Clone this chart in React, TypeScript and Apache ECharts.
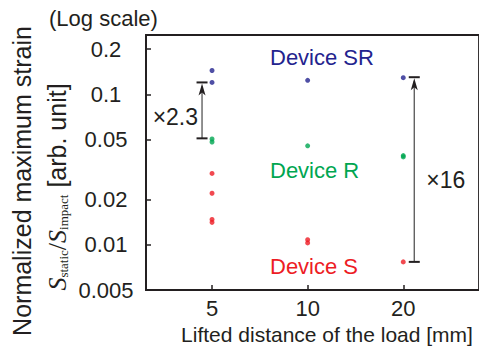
import React, { useEffect, useRef } from "react";
import * as echarts from "echarts";

// ---- data ----
const xTickValues = [5, 10, 20];
const xTickLabels = ["5", "10", "20"];
const yTickValues = [0.005, 0.01, 0.02, 0.05, 0.1, 0.2];
const yTickLabels = ["0.005", "0.01", "0.02", "0.05", "0.1", "0.2"];

const seriesNames = ["Device SR", "Device R", "Device S"];
const deviceSR = [[5, 0.144], [5, 0.12], [10, 0.124], [20, 0.129]];
const deviceR = [[5, 0.0505], [5, 0.0482], [10, 0.0455], [20, 0.0392], [20, 0.0384]];
const deviceS = [
  [5, 0.0298], [5, 0.022], [5, 0.01475], [5, 0.0141],
  [10, 0.0108], [10, 0.0103], [20, 0.0077],
];

// ratio brackets: x, low, high
const ratioBrackets = [[5, 0.051, 0.12], [20, 0.0077, 0.13]];
const ratioLabels = ["×2.3", "×16"];

const SANS = "'Liberation Sans', Arial, sans-serif";
const SERIF = "'Liberation Serif', 'Times New Roman', serif";
const colors = ["#23238e", "#00a651", "#ed1c24"];
const ink = "#231f20";

// bracket drawing parameters (pixel offsets)
const bracketDx = [-10, 11];
const labelDx = [-4, 12];
const labelDy = [7, 10];
const labelAlign = ["right", "left"];

function nearestLabel(v: number, values: number[], labels: string[]) {
  let best = 0;
  let bd = Infinity;
  values.forEach((t, i) => {
    const d = Math.abs(Math.log(v) - Math.log(t));
    if (d < bd) { bd = d; best = i; }
  });
  return bd < 1e-4 ? labels[best] : "";
}

export default function App() {
  const ref = useRef<HTMLDivElement>(null);

  useEffect(() => {
    document.body.style.margin = "0";
    const chart = echarts.init(ref.current!, null, { renderer: "svg" });

    const option: any = {
      animation: false,
      textStyle: { fontFamily: SANS },
      grid: {
        left: 146,
        top: 35,
        width: 343,
        height: 256,
        show: true,
        borderColor: ink,
        borderWidth: 1.8,
        containLabel: false,
      },
      xAxis: {
        type: "log",
        logBase: 2,
        min: 3.098,
        max: 34.63,
        name: "Lifted distance of the load [mm]",
        nameLocation: "middle",
        nameGap: 32,
        nameTextStyle: { fontSize: 21, color: ink, fontFamily: SANS, padding: [0, 0, 0, 29] },
        axisLine: { show: true, lineStyle: { color: ink, width: 1.8 } },
        axisTick: {
          show: true,
          inside: true,
          length: 5,
          customValues: xTickValues,
          lineStyle: { color: ink, width: 1.5 },
        },
        axisLabel: {
          show: true,
          customValues: xTickValues,
          fontSize: 22,
          color: ink,
          margin: 7,
          formatter: (v: number) => nearestLabel(v, xTickValues, xTickLabels),
        },
        splitLine: { show: false },
        minorTick: { show: false },
      },
      yAxis: {
        type: "log",
        logBase: 10,
        min: 0.005,
        max: 0.248,
        axisLine: { show: true, lineStyle: { color: ink, width: 1.8 } },
        axisTick: {
          show: true,
          inside: true,
          length: 5,
          customValues: yTickValues,
          lineStyle: { color: ink, width: 1.5 },
        },
        axisLabel: {
          show: true,
          customValues: yTickValues,
          fontSize: 22,
          color: ink,
          margin: 40,
          align: "center",
          formatter: (v: number) => nearestLabel(v, yTickValues, yTickLabels),
        },
        splitLine: { show: false },
      },
      series: [
        {
          name: seriesNames[0],
          type: "scatter",
          data: deviceSR,
          symbolSize: 5,
          itemStyle: { color: colors[0] },
          z: 5,
        },
        {
          name: seriesNames[1],
          type: "scatter",
          data: deviceR,
          symbolSize: 5,
          itemStyle: { color: colors[1] },
          z: 5,
        },
        {
          name: seriesNames[2],
          type: "scatter",
          data: deviceS,
          symbolSize: 5,
          itemStyle: { color: colors[2] },
          z: 5,
        },
        {
          name: "ratio",
          type: "custom",
          coordinateSystem: "cartesian2d",
          encode: { x: 0, y: [1, 2] },
          data: ratioBrackets,
          z: 4,
          renderItem: (params: any, api: any) => {
            const i = params.dataIndex;
            const x = api.value(0);
            const pLo = api.coord([x, api.value(1)]);
            const pHi = api.coord([x, api.value(2)]);
            const cx = pLo[0] + bracketDx[i];
            const yLo = pLo[1];
            const yHi = pHi[1];
            const capW = 5.5;
            return {
              type: "group",
              children: [
                {
                  type: "line",
                  shape: { x1: cx, y1: yLo, x2: cx, y2: yHi + 4 },
                  style: { stroke: "#555", lineWidth: 1.3 },
                },
                {
                  type: "line",
                  shape: { x1: cx - capW, y1: yHi, x2: cx + capW, y2: yHi },
                  style: { stroke: ink, lineWidth: 2 },
                },
                {
                  type: "line",
                  shape: { x1: cx - capW, y1: yLo, x2: cx + capW, y2: yLo },
                  style: { stroke: ink, lineWidth: 2 },
                },
                {
                  type: "polygon",
                  shape: {
                    points: [
                      [cx, yHi + 1],
                      [cx - 3.5, yHi + 13],
                      [cx, yHi + 10],
                      [cx + 3.5, yHi + 13],
                    ],
                  },
                  style: { fill: ink },
                },
                {
                  type: "text",
                  style: {
                    text: ratioLabels[i],
                    x: cx + labelDx[i],
                    y: (yLo + yHi) / 2 + labelDy[i],
                    fill: ink,
                    font: `23px ${SANS}`,
                    align: labelAlign[i],
                    verticalAlign: "middle",
                  },
                },
              ],
            };
          },
        },
      ],
      graphic: [
        {
          type: "text",
          x: 49,
          y: 18,
          style: {
            text: "(Log scale)",
            font: `22px ${SANS}`,
            fill: ink,
            align: "left",
            verticalAlign: "middle",
          },
        },
        {
          type: "text",
          x: 22,
          y: 181,
          rotation: Math.PI / 2,
          style: {
            text: "Normalized maximum strain",
            font: `25px ${SANS}`,
            fill: ink,
            align: "center",
            verticalAlign: "middle",
          },
        },
        {
          type: "text",
          x: 57,
          y: 187,
          rotation: Math.PI / 2,
          style: {
            text: "{s|S}{sub|static}{r|/}{s|S}{sub|impact}{t| [arb. unit]}",
            fill: ink,
            align: "center",
            verticalAlign: "middle",
            rich: {
              s: { fontFamily: SERIF, fontStyle: "italic", fontSize: 26, fill: ink, lineHeight: 26 },
              r: { fontFamily: SERIF, fontSize: 26, fill: ink, lineHeight: 26 },
              sub: { fontFamily: SERIF, fontSize: 13, fill: ink, lineHeight: 13, verticalAlign: "bottom" },
              t: { fontFamily: SANS, fontSize: 25, fill: ink, lineHeight: 26 },
            },
          },
        },
        {
          type: "text",
          x: 270,
          y: 57,
          style: { text: seriesNames[0], font: `22px ${SANS}`, fill: colors[0], align: "left", verticalAlign: "middle" },
        },
        {
          type: "text",
          x: 270,
          y: 170,
          style: { text: seriesNames[1], font: `22px ${SANS}`, fill: colors[1], align: "left", verticalAlign: "middle" },
        },
        {
          type: "text",
          x: 270,
          y: 266,
          style: { text: seriesNames[2], font: `22px ${SANS}`, fill: colors[2], align: "left", verticalAlign: "middle" },
        },
      ],
    };

    chart.setOption(option);
    return () => chart.dispose();
  }, []);

  return <div ref={ref} style={{ width: 479, height: 350 }} />;
}
